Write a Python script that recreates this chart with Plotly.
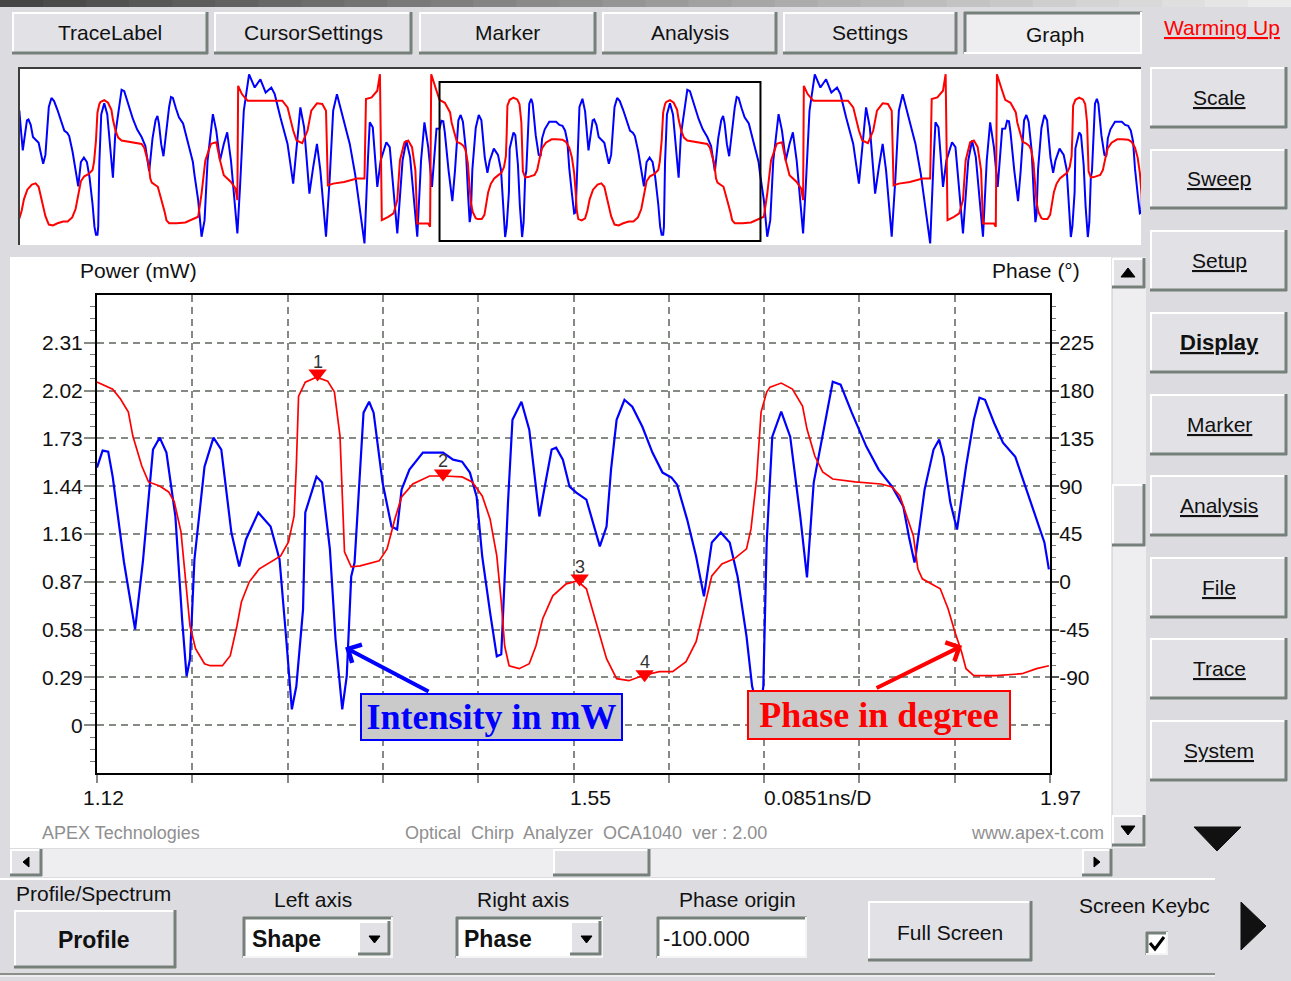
import plotly.graph_objects as go

W, H = 1291, 981
FONT = "Liberation Sans"
SERIF = "Liberation Serif"
BG = "#dcdce0"
GRID = "#858a85"
DARK = "#76807a"

# ---------------- main view data (time in ns) ----------------
blue_t = [1.120,1.125,1.130,1.134,1.144,1.154,1.161,1.170,1.176,1.182,
          1.190,1.196,1.200,1.203,1.207,1.216,1.224,1.231,1.240,1.247,
          1.253,1.264,1.275,1.283,1.289,1.294,1.298,1.304,1.306,1.316,
          1.321,1.328,1.333,1.339,1.343,1.347,1.350,1.358,1.363,1.367,
          1.375,1.383,1.388,1.392,1.399,1.411,1.429,1.438,1.446,1.453,
          1.459,1.464,1.471,1.477,1.481,1.482,1.487,1.491,1.499,1.506,
          1.511,1.515,1.521,1.526,1.530,1.536,1.542,1.548,1.557,1.562,
          1.569,1.575,1.579,1.584,1.591,1.598,1.607,1.616,1.625,1.633,
          1.638,1.647,1.655,1.662,1.669,1.677,1.685,1.692,1.700,1.705,
          1.709,1.713,1.715,1.718,1.723,1.731,1.739,1.748,1.754,1.760,
          1.769,1.777,1.784,1.794,1.807,1.818,1.830,1.840,1.845,1.850,
          1.851,1.859,1.867,1.872,1.876,1.882,1.888,1.896,1.903,1.908,
          1.913,1.921,1.929,1.940,1.946,1.956,1.966,1.970]
blue_mw = [1.556,1.659,1.652,1.502,0.989,0.579,0.989,1.665,1.737,1.647,
           1.261,0.639,0.296,0.398,1.001,1.562,1.737,1.665,1.164,0.959,
           1.122,1.285,1.200,1.001,0.519,0.096,0.235,0.700,1.285,1.502,
           1.466,1.061,0.519,0.096,0.296,0.899,0.983,1.888,1.954,1.888,
           1.466,1.200,1.182,1.423,1.544,1.647,1.647,1.604,1.592,1.526,
           1.381,1.019,0.681,0.416,0.428,0.579,1.345,1.845,1.954,1.785,
           1.484,1.261,1.484,1.665,1.676,1.604,1.441,1.405,1.363,1.242,
           1.080,1.200,1.544,1.845,1.966,1.924,1.803,1.647,1.526,1.496,
           1.453,1.242,1.019,0.778,1.104,1.164,1.104,0.899,0.537,0.235,
           0.127,0.127,0.235,1.104,1.743,1.894,1.743,1.261,0.893,1.466,
           1.785,2.075,2.057,1.888,1.683,1.544,1.441,1.321,1.140,0.983,
           1.019,1.423,1.665,1.725,1.622,1.345,1.182,1.562,1.845,1.978,
           1.966,1.827,1.707,1.622,1.502,1.303,1.104,0.941]

red_t = [1.120,1.134,1.141,1.148,1.152,1.160,1.166,1.176,1.184,1.189,
         1.195,1.198,1.203,1.208,1.216,1.221,1.232,1.239,1.245,1.249,
         1.256,1.265,1.275,1.284,1.291,1.296,1.298,1.300,1.306,1.316,
         1.326,1.332,1.337,1.339,1.341,1.347,1.355,1.372,1.379,1.386,
         1.392,1.402,1.417,1.429,1.446,1.455,1.464,1.471,1.477,1.481,
         1.484,1.488,1.497,1.506,1.512,1.518,1.527,1.539,1.549,1.557,
         1.562,1.569,1.575,1.584,1.595,1.607,1.622,1.634,1.646,1.655,
         1.662,1.669,1.678,1.689,1.700,1.704,1.709,1.713,1.718,1.721,
         1.731,1.741,1.750,1.754,1.761,1.768,1.777,1.797,1.820,1.830,
         1.837,1.843,1.849,1.853,1.857,1.873,1.880,1.886,1.892,1.896,
         1.903,1.923,1.946,1.959,1.970]
red_deg = [188.0,181.4,172.0,159.8,137.2,109.0,94.0,90.2,84.6,75.2,
           47.0,12.2,-41.4,-63.0,-77.1,-79.0,-79.0,-69.6,-41.4,-18.8,
           0.0,12.2,18.8,24.4,37.6,62.0,109.0,174.8,188.0,192.7,
           188.9,178.6,137.2,75.2,28.2,14.1,15.0,19.7,31.0,59.2,
           79.9,92.1,99.6,99.6,98.7,94.0,80.8,59.2,24.4,-18.8,
           -60.2,-79.0,-81.8,-77.1,-60.2,-34.8,-13.2,-1.9,0.9,-6.6,
           -25.4,-50.8,-72.4,-91.2,-93.1,-88.4,-84.6,-84.6,-75.2,-56.4,
           -25.4,5.6,16.9,21.6,31.0,49.8,96.8,159.8,178.6,183.3,
           187.1,181.4,165.4,143.8,118.4,103.4,96.8,94.0,92.1,89.3,
           80.8,62.0,43.2,12.2,2.8,-6.6,-25.4,-47.0,-65.8,-81.8,
           -88.4,-88.4,-86.5,-81.8,-79.0]

# markers on the phase trace
marker_labels = ["1", "2", "3", "4"]
marker_t = [1.317, 1.429, 1.551, 1.609]
marker_deg = [196.0, 102.0, 3.0, -87.0]

# ---------------- overview strip: rest of one period ----------------
ov_period = 1.5
ext_blue_t = [1.980,1.989,1.997,2.005,2.019,2.028,2.038,2.048,2.057,2.067,
              2.077,2.084,2.091,2.101,2.115,2.130,2.145,2.159,2.174,2.183,
              2.198,2.217,2.232,2.241,2.251,2.261,2.275,2.285,2.295,2.304,
              2.319,2.329,2.338,2.348,2.363,2.382,2.396,2.411,2.421,2.430,
              2.435,2.443,2.455,2.464,2.479,2.488,2.508,2.522,2.532,2.542,
              2.561,2.571,2.580,2.590,2.600,2.612]
ext_blue_mw = [0.591,0.100,0.323,1.125,1.749,1.527,1.125,1.348,1.504,1.125,
               0.546,0.145,0.769,1.794,2.284,2.106,2.217,2.039,2.106,2.017,
               1.705,1.348,0.814,1.348,1.838,1.571,0.680,1.036,1.348,0.992,
               0.100,0.903,1.794,2.017,1.705,1.348,0.947,0.412,0.011,1.125,
               1.638,1.571,0.769,1.125,1.371,1.304,0.145,1.125,1.393,1.170,
               0.100,1.125,1.638,1.304,0.769,1.553]
ext_red_t = [1.980,1.989,1.999,2.014,2.028,2.038,2.048,2.067,2.079,2.084,
             2.086,2.096,2.111,2.203,2.217,2.232,2.241,2.256,2.270,2.280,
             2.295,2.309,2.319,2.324,2.338,2.367,2.401,2.421,2.425,2.440,
             2.455,2.462,2.467,2.484,2.498,2.508,2.515,2.527,2.537,2.547,
             2.556,2.561,2.590,2.595,2.598,2.612]
ext_red_deg = [-73.8,-21.9,52.4,89.5,93.2,52.4,19.0,4.1,-10.7,-36.7,
               219.4,200.9,186.0,186.0,171.2,119.2,96.9,91.0,119.2,163.7,
               180.1,178.6,163.7,-3.3,0.4,4.1,11.6,11.6,189.7,193.4,
               208.3,245.4,-81.3,-73.8,-66.4,-36.7,52.4,93.2,96.9,82.1,
               30.1,-88.7,-88.7,-96.1,245.4,208.3]

# ---------------- axes ----------------
x_start = 1.12
x_div = 0.0851
x_label_text = ["1.12", "1.55", "0.0851ns/D", "1.97"]
power_step = 0.28875
power_labels = ["0", "0.29", "0.58", "0.87", "1.16", "1.44", "1.73", "2.02", "2.31"]
phase_ticks = [-90, -45, 0, 45, 90, 135, 180, 225]

# ---------------- pixel helpers for the UI chrome ----------------
def PX(x):
    return x / W

def PY(y):
    return 1 - y / H

shapes = []
annots = []

def rect(x0, y0, x1, y1, fill, line=None, lw=0, layer="below"):
    shapes.append(dict(type="rect", xref="paper", yref="paper",
                       x0=PX(x0), x1=PX(x1), y0=PY(y1), y1=PY(y0),
                       fillcolor=fill, line=dict(width=lw, color=line or fill),
                       layer=layer))

def seg(x0, y0, x1, y1, color, w=1, layer="below", dash="solid"):
    shapes.append(dict(type="line", xref="paper", yref="paper",
                       x0=PX(x0), x1=PX(x1), y0=PY(y0), y1=PY(y1),
                       line=dict(color=color, width=w, dash=dash), layer=layer))

def tri(pts, color="#000000", layer="below"):
    path = "M " + " L ".join(f"{PX(x):.5f},{PY(y):.5f}" for x, y in pts) + " Z"
    shapes.append(dict(type="path", xref="paper", yref="paper", path=path,
                       fillcolor=color, line=dict(color=color, width=1), layer=layer))

def text(s, x, y, size=21, color="#111111", anchor="center", family=FONT, under=False):
    f = dict(size=size, color=color, family=family)
    if under:
        f["lineposition"] = "under"
    annots.append(dict(text=s, x=PX(x), y=PY(y), xref="paper", yref="paper",
                       xanchor=anchor, yanchor="middle", showarrow=False, font=f))

def raised(x0, y0, x1, y1, face="#e2e2e6"):
    rect(x0, y0, x1, y1, face)
    seg(x0, y0 + 1, x1, y0 + 1, "#ffffff", 2)
    seg(x0 + 1, y0, x0 + 1, y1, "#ffffff", 2)
    seg(x0, y1 - 1, x1, y1 - 1, DARK, 3)
    seg(x1 - 1, y0, x1 - 1, y1, DARK, 3)

def pressed(x0, y0, x1, y1, face="#eeeef0"):
    rect(x0, y0, x1, y1, face)
    seg(x0, y0 + 1, x1, y0 + 1, DARK, 3)
    seg(x0 + 1, y0, x0 + 1, y1, DARK, 3)
    seg(x0, y1 - 1, x1, y1 - 1, "#ffffff", 2)
    seg(x1 - 1, y0, x1 - 1, y1, "#ffffff", 2)

def sunken(x0, y0, x1, y1, face="#ffffff"):
    rect(x0, y0, x1, y1, face)
    seg(x0, y0 + 1, x1, y0 + 1, DARK, 3)
    seg(x0 + 1, y0, x0 + 1, y1, DARK, 3)
    seg(x0, y1 - 1, x1, y1 - 1, "#f4f4f4", 2)
    seg(x1 - 1, y0, x1 - 1, y1, "#f4f4f4", 2)

# top gradient strip
n = 30
for i in range(n):
    c = int(70 + (235 - 70) * i / (n - 1))
    rect(i * W / n, 0, (i + 1) * W / n + 1, 7, f"rgb({c},{c},{c})")

# top tabs
tabs = [("TraceLabel", 12, 208), ("CursorSettings", 214, 412), ("Marker", 419, 596),
        ("Analysis", 602, 777), ("Settings", 783, 957)]
for label, a, b in tabs:
    raised(a, 12, b, 54)
    text(label, (a + b) / 2, 32, 21)
pressed(964, 12, 1142, 54)
text("Graph", 1055, 34, 21)
text("Warming Up", 1222, 28, 21, color="#ff0000", under=True)

# overview panel
rect(18, 67, 1141, 245, "#ffffff")
seg(18, 68, 1141, 68, "#3c3c3c", 2)
seg(19, 67, 19, 245, "#3c3c3c", 2)

# main white panel
rect(10, 257, 1112, 848, "#ffffff")

# vertical scrollbar
rect(1112, 257, 1146, 848, "#eeeef0")
seg(1112, 257, 1112, 848, "#c8c8cc", 1)
raised(1112, 258, 1145, 288)
tri([(1121, 277), (1135, 277), (1128, 268)])
raised(1112, 484, 1145, 546)
raised(1112, 815, 1145, 846)
tri([(1121, 826), (1135, 826), (1128, 835)])

# horizontal scrollbar
rect(10, 849, 1112, 877, "#eeeef0")
raised(10, 849, 42, 876)
tri([(29, 857), (29, 867), (23, 862)])
raised(553, 849, 650, 876)
raised(1082, 849, 1112, 876)
tri([(1094, 857), (1094, 867), (1100, 862)])

# right column buttons
side = [("Scale", 67, 128), ("Sweep", 149, 209), ("Setup", 230, 291), ("Display", 312, 373),
        ("Marker", 394, 455), ("Analysis", 475, 536), ("File", 557, 618), ("Trace", 638, 699),
        ("System", 720, 781)]
for label, a, b in side:
    raised(1150, a, 1287, b)
    if label == "Display":
        text("<b>Display</b>", 1219, (a + b) / 2, 22, under=True)
    else:
        text(label, 1219, (a + b) / 2, 21, under=True)
tri([(1194, 827), (1241, 827), (1217, 851)], "#111111")
tri([(1241, 902), (1241, 950), (1266, 926)], "#111111")

# bottom controls
seg(0, 879, 1215, 879, "#ffffff", 2)
seg(0, 974, 1215, 974, "#8a8f8a", 2)
seg(0, 976, 1215, 976, "#ffffff", 1)
text("Profile/Spectrum", 14, 893, 21, anchor="left")
raised(14, 910, 176, 968)
text("<b>Profile</b>", 94, 940, 23)
text("Left axis", 313, 899, 21)
sunken(243, 917, 393, 958)
text("<b>Shape</b>", 250, 939, 23, anchor="left")
raised(358, 921, 390, 955)
tri([(369, 936), (380, 936), (374.5, 943)])
text("Right axis", 523, 899, 21)
sunken(456, 917, 603, 958)
text("<b>Phase</b>", 462, 939, 23, anchor="left")
raised(570, 921, 601, 955)
tri([(581, 936), (592, 936), (586.5, 943)])
text("Phase origin", 737, 899, 21)
sunken(657, 917, 807, 958)
text("-100.000", 661, 938, 22, anchor="left")
raised(868, 901, 1032, 961)
text("Full Screen", 950, 932, 21)
text("Screen Keybc", 1077, 905, 21, anchor="left")
sunken(1146, 932, 1168, 955)
shapes.append(dict(type="path", xref="paper", yref="paper", layer="below",
                   path=f"M {PX(1150)},{PY(943)} L {PX(1155)},{PY(949)} L {PX(1164)},{PY(937)}",
                   line=dict(color="#000000", width=3)))

# texts inside the main panel
text("Power (mW)", 138, 271, 21)
text("Phase (°)", 1036, 271, 21)
text("APEX Technologies", 40, 833, 18, color="#8f8f8f", anchor="left")
text("Optical  Chirp  Analyzer  OCA1040  ver : 2.00", 586, 833, 18, color="#8f8f8f")
text("www.apex-t.com", 1106, 833, 18, color="#8f8f8f", anchor="right")

# x labels below the main plot
for s, cx in zip(x_label_text, [103, 590, 817, 1060]):
    text(s, cx, 797, 21)

# ---------------- figure ----------------
fig = go.Figure()

fig.add_trace(go.Scatter(x=blue_t, y=blue_mw, mode="lines", xaxis="x", yaxis="y",
                         line=dict(color="#0000ff", width=2.2), hoverinfo="skip"))
fig.add_trace(go.Scatter(x=red_t, y=red_deg, mode="lines", xaxis="x", yaxis="y2",
                         line=dict(color="#ff0000", width=1.7), hoverinfo="skip"))
fig.add_trace(go.Scatter(x=marker_t, y=marker_deg, mode="markers", xaxis="x", yaxis="y2",
                         marker=dict(symbol="triangle-down", size=16, color="#ff0000"),
                         hoverinfo="skip"))
for lab, mt, md in zip(marker_labels, marker_t, marker_deg):
    annots.append(dict(text=lab, x=mt, y=md, xref="x", yref="y2", yshift=12, showarrow=False,
                       xanchor="center", yanchor="middle",
                       font=dict(size=18, color="#333333", family=FONT)))

# overview strip: repeat the read-off period around the current window
ov_bt = [t - ov_period for t in blue_t + ext_blue_t] + blue_t + ext_blue_t + [t + ov_period for t in blue_t]
ov_bv = blue_mw + ext_blue_mw + blue_mw + ext_blue_mw + blue_mw
ov_rt = [t - ov_period for t in red_t + ext_red_t] + red_t + ext_red_t + [t + ov_period for t in red_t]
ov_rv = red_deg + ext_red_deg + red_deg + ext_red_deg + red_deg
fig.add_trace(go.Scatter(x=ov_rt, y=ov_rv, mode="lines", xaxis="x2", yaxis="y4",
                         line=dict(color="#ff0000", width=2), hoverinfo="skip"))
fig.add_trace(go.Scatter(x=ov_bt, y=ov_bv, mode="lines", xaxis="x2", yaxis="y3",
                         line=dict(color="#0000ff", width=2), hoverinfo="skip"))

x_end = x_start + 10 * x_div
# window box in overview
shapes.append(dict(type="rect", xref="x2", yref="paper", x0=x_start, x1=x_end,
                   y0=PY(241), y1=PY(82), line=dict(color="#000000", width=2), layer="above"))

x_grid = [x_start + k * x_div for k in range(11)]
power_ticks = [k * power_step for k in range(len(power_labels))]
power_minor = [k * power_step / 4 for k in range(-3, 36) if k % 4]
phase_minor = [k * 11.25 for k in range(-12, 24) if k % 4]

tickfont = dict(size=21, family=FONT, color="#111111")
fig.update_layout(
    width=W, height=H, autosize=False, margin=dict(l=0, r=0, t=0, b=0),
    paper_bgcolor=BG, plot_bgcolor="rgba(0,0,0,0)", showlegend=False, hovermode=False,
    xaxis=dict(domain=[PX(97), PX(1050)], range=[x_start, x_end], anchor="y",
               tickmode="array", tickvals=x_grid, showticklabels=False,
               ticks="outside", ticklen=8, tickcolor=GRID, tickwidth=1.5,
               showgrid=True, gridcolor=GRID, gridwidth=1.5, griddash="7px,5px",
               showline=True, linecolor="#000000", linewidth=2, mirror=True,
               zeroline=False, fixedrange=True),
    yaxis=dict(domain=[PY(773), PY(295)], range=[-power_step, 9 * power_step], anchor="x",
               tickmode="array", tickvals=power_ticks, ticktext=power_labels, tickfont=tickfont,
               ticks="outside", ticklen=11, tickcolor=GRID, tickwidth=1.5, ticklabelstandoff=-3,
               showgrid=True, gridcolor=GRID, gridwidth=1.5, griddash="7px,5px",
               showline=True, linecolor="#000000", linewidth=2, zeroline=False, fixedrange=True,
               minor=dict(tickmode="array", tickvals=power_minor, ticks="outside", ticklen=5,
                          tickcolor="#777777", tickwidth=1, showgrid=False)),
    yaxis2=dict(overlaying="y", side="right", anchor="x", range=[-180, 270],
                tickmode="array", tickvals=phase_ticks, ticktext=[str(v) for v in phase_ticks],
                tickfont=tickfont, ticks="outside", ticklen=7, tickcolor="#555555", tickwidth=1.5,
                ticklabelstandoff=-4,
                showgrid=False, showline=True, linecolor="#000000", linewidth=2,
                zeroline=False, fixedrange=True,
                minor=dict(tickmode="array", tickvals=phase_minor, ticks="outside", ticklen=4,
                           tickcolor="#777777", tickwidth=1, showgrid=False)),
    xaxis2=dict(domain=[PX(20), PX(1141)], range=[0.0076, 2.980], anchor="y3",
                visible=False, fixedrange=True),
    yaxis3=dict(domain=[PY(245), PY(69)], range=[-0.011, 2.355], anchor="x2",
                visible=False, fixedrange=True),
    yaxis4=dict(domain=[PY(245), PY(69)], range=[-137, 257], anchor="x2", overlaying="y3",
                visible=False, fixedrange=True),
)

# call-out boxes and arrows
annots.append(dict(text="<b>Intensity in mW</b>", x=PX(491.5), y=PY(716.5), xref="paper", yref="paper",
                   xanchor="center", yanchor="middle",
                   showarrow=False, width=259, height=44, borderpad=0, borderwidth=2,
                   bordercolor="#0000ff", bgcolor="#cacaca",
                   font=dict(family=SERIF, size=36, color="#0000ff")))
annots.append(dict(text="<b>Phase in degree</b>", x=PX(879), y=PY(715), xref="paper", yref="paper",
                   xanchor="center", yanchor="middle",
                   showarrow=False, width=260, height=46, borderpad=0, borderwidth=2,
                   bordercolor="#ff0000", bgcolor="#cacaca",
                   font=dict(family=SERIF, size=36, color="#ff0000")))
annots.append(dict(text="", x=1.3415, y=0.470, xref="x", yref="y", showarrow=True,
                   ax=85, ay=45, arrowhead=4, arrowsize=1, arrowwidth=4, arrowcolor="#0000ff"))
annots.append(dict(text="", x=1.8925, y=-60.2, xref="x", yref="y2", showarrow=True,
                   ax=-87, ay=43, arrowhead=4, arrowsize=1, arrowwidth=4, arrowcolor="#ff0000"))

fig.update_layout(shapes=shapes, annotations=annots)

fig.write_html("out.html", config={"displayModeBar": False},
               post_script="document.body.style.margin='0px';document.body.style.overflow='hidden';")
